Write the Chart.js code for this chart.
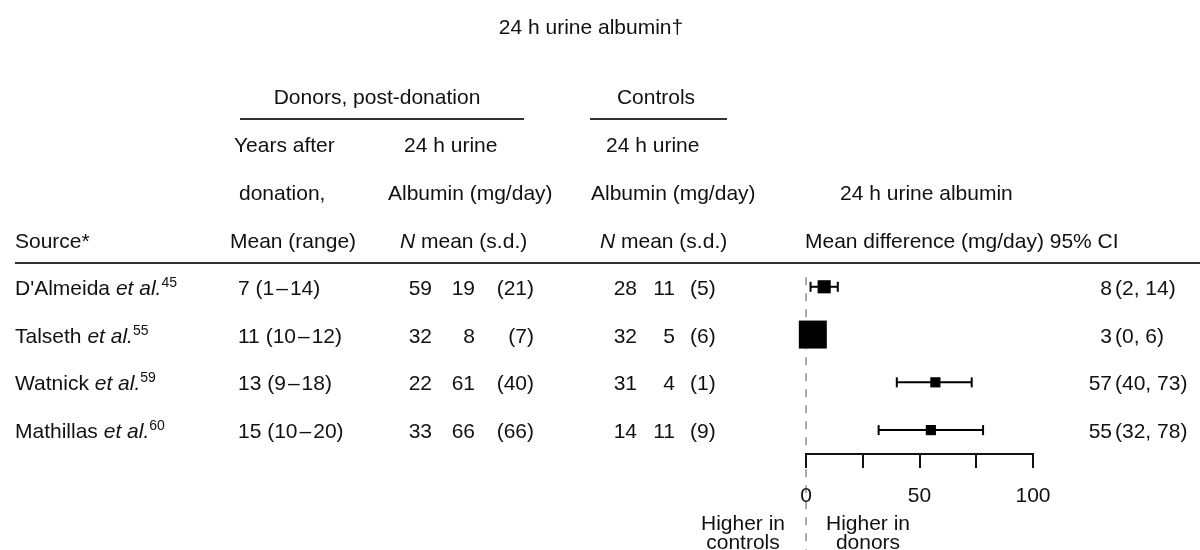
<!DOCTYPE html>
<html>
<head>
<meta charset="utf-8">
<script src="https://cdn.jsdelivr.net/npm/chart.js@4.4.1/dist/chart.umd.min.js"></script>
<style>
html, body { margin: 0; padding: 0; background: #fff; }
#wrap { position: relative; width: 1200px; height: 550px; overflow: hidden;
        font-family: "Liberation Sans", Arial, Helvetica, sans-serif; font-size: 21px; color: #111; }
#c { position: absolute; left: 0; top: 0; }
.t { position: absolute; white-space: nowrap; line-height: 1; transform: translateY(-50%); }
.rule { position: absolute; height: 0; border-top: 2px solid #333; }
.sup { font-size: 14px; position: relative; top: -8px; }
.dash { margin: 0 2px; }
</style>
</head>
<body>
<div id="wrap"><canvas id="c" width="1200" height="550"></canvas></div>
<script>
// study data
var studies   = ["D'Almeida", "Talseth", "Watnick", "Mathillas"];
var refs      = [45, 55, 59, 60];
var yearsMean = [7, 11, 13, 15];
var yearsMin  = [1, 10, 9, 10];
var yearsMax  = [14, 12, 18, 20];
var donorN    = [59, 32, 22, 33];
var donorMean = [19, 8, 61, 66];
var donorSd   = [21, 7, 40, 66];
var ctrlN     = [28, 32, 31, 14];
var ctrlMean  = [11, 5, 4, 11];
var ctrlSd    = [5, 6, 1, 9];
var meanDiff  = [8, 3, 57, 55];
var ciLow     = [2, 0, 40, 32];
var ciHigh    = [14, 6, 73, 78];
var weights   = [15, 68, 9, 9];   // relative study weight (square area)
var axisTicks  = [0, 25, 50, 75, 100];
var tickLabels = ['0', '', '50', '', '100'];

var wrap = document.getElementById('wrap');

function put(html, x, y, align) {
    var d = document.createElement('div');
    d.className = 't';
    d.innerHTML = html;
    if (align === 'right') {
        d.style.right = (1200 - x) + 'px';
    } else if (align === 'center') {
        d.style.left = x + 'px';
        d.style.transform = 'translate(-50%,-50%)';
        d.style.textAlign = 'center';
    } else {
        d.style.left = x + 'px';
    }
    d.style.top = y + 'px';
    wrap.appendChild(d);
    return d;
}

function rule(x1, x2, y) {
    var r = document.createElement('div');
    r.className = 'rule';
    r.style.left = x1 + 'px';
    r.style.width = (x2 - x1) + 'px';
    r.style.top = y + 'px';
    wrap.appendChild(r);
}

// dashed line of no difference, behind the axis and the squares
var zeroLine = {
    id: 'zeroLine',
    beforeDraw: function(chart) {
        var x = chart.scales.x.getPixelForValue(0);
        var ctx = chart.ctx;
        ctx.save();
        ctx.strokeStyle = '#aaa';
        ctx.lineWidth = 2;
        ctx.setLineDash([8, 8]);
        ctx.beginPath();
        ctx.moveTo(x, chart.scales.y.getPixelForValue(0.8));
        ctx.lineTo(x, chart.height);
        ctx.stroke();
        ctx.restore();
    }
};

var squares = {
    data: meanDiff.map(function(v, i) { return { x: v, y: i + 1 }; }),
    pointStyle: 'rect',
    pointRadius: weights.map(function(w) { return 2.4 * Math.sqrt(w); }),
    pointHoverRadius: weights.map(function(w) { return 2.4 * Math.sqrt(w); }),
    backgroundColor: '#000',
    borderColor: '#000',
    borderWidth: 0,
    clip: false
};

var ciSets = studies.map(function(s, i) {
    return {
        type: 'line',
        data: [{ x: ciLow[i], y: i + 1 }, { x: ciHigh[i], y: i + 1 }],
        borderColor: '#000',
        borderWidth: 2,
        pointStyle: 'line',
        pointRotation: 90,
        pointRadius: 5,
        pointHoverRadius: 5,
        pointBorderWidth: 2,
        pointBorderColor: '#000',
        clip: false
    };
});

var chart = new Chart(document.getElementById('c'), {
    type: 'scatter',
    data: { datasets: [squares].concat(ciSets) },
    plugins: [zeroLine],
    options: {
        responsive: false,
        animation: false,
        events: [],
        layout: { padding: { left: 806, right: 167, top: 239, bottom: 36 } },
        plugins: { legend: { display: false }, tooltip: { enabled: false } },
        scales: {
            x: {
                type: 'linear',
                min: 0,
                max: 100,
                afterBuildTicks: function(scale) {
                    scale.ticks = axisTicks.map(function(v) { return { value: v }; });
                },
                afterFit: function(scale) { scale.height = 60; },
                ticks: {
                    color: '#111',
                    padding: 16,
                    maxRotation: 0,
                    font: { family: '"Liberation Sans", Arial, sans-serif', size: 21 },
                    callback: function(v, i) { return tickLabels[i]; }
                },
                grid: { display: true, drawOnChartArea: false, drawTicks: true, tickLength: 14, color: '#111', lineWidth: 2 },
                border: { display: true, color: '#111', width: 2 }
            },
            y: { type: 'linear', display: false, reverse: true, min: 0, max: 4.5 }
        }
    }
});

// header texts
put('24 h urine albumin\u2020', 591, 26, 'center');
put('Donors, post-donation', 377, 96, 'center');
rule(240, 524, 118);
put('Controls', 656, 96, 'center');
rule(590, 727, 118);

put('Years after', 234, 144);
put('24 h urine', 404, 144);
put('24 h urine', 606, 144);
put('donation,', 239, 192);
put('Albumin (mg/day)', 388, 192);
put('Albumin (mg/day)', 591, 192);
put('24 h urine albumin', 840, 192);
put('Source*', 15, 240);
put('Mean (range)', 230, 240);
put('<i>N</i> mean (s.d.)', 400, 240);
put('<i>N</i> mean (s.d.)', 600, 240);
put('Mean difference (mg/day) 95% CI', 805, 240);
rule(15, 1200, 262);

// study rows, placed on the chart's own row positions
studies.forEach(function(s, i) {
    var y = chart.scales.y.getPixelForValue(i + 1);
    put(s + ' <i>et al.</i><span class="sup">' + refs[i] + '</span>', 15, y);
    put(yearsMean[i] + ' (' + yearsMin[i] + '<span class="dash">\u2013</span>' + yearsMax[i] + ')', 238, y);
    put(String(donorN[i]), 432, y, 'right');
    put(String(donorMean[i]), 475, y, 'right');
    put('(' + donorSd[i] + ')', 534, y, 'right');
    put(String(ctrlN[i]), 637, y, 'right');
    put(String(ctrlMean[i]), 675, y, 'right');
    put('(' + ctrlSd[i] + ')', 690, y);
    put(String(meanDiff[i]), 1112, y, 'right');
    put('(' + ciLow[i] + ', ' + ciHigh[i] + ')', 1115, y);
});

// direction labels under the axis
var zx = chart.scales.x.getPixelForValue(0);
var l1 = put('Higher in<br>controls', zx - 63, 532, 'center');
l1.style.lineHeight = '19px';
var l2 = put('Higher in<br>donors', zx + 62, 532, 'center');
l2.style.lineHeight = '19px';
</script>
</body>
</html>
